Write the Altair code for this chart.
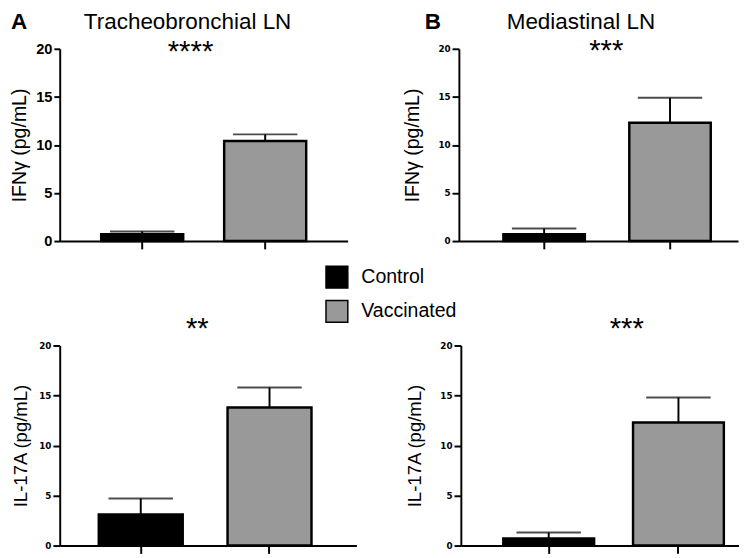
import altair as alt
import pandas as pd

groups = ["Control", "Vaccinated"]
colors = ["#000000", "#999999"]
y_ticks = [0, 5, 10, 15, 20]

tb_ifng_mean = [0.7, 10.4]
tb_ifng_upper = [1.0, 11.1]
med_ifng_mean = [0.7, 12.3]
med_ifng_upper = [1.3, 14.9]
tb_il17_mean = [3.1, 13.8]
tb_il17_upper = [4.7, 15.8]
med_il17_mean = [0.7, 12.3]
med_il17_upper = [1.3, 14.8]

FONT = "Liberation Sans"


def text_mark(txt, x, y, size, weight="normal", align="center", baseline="alphabetic"):
    return alt.Chart(alt.Data(values=[{}])).mark_text(
        text=txt, fontSize=size, fontWeight=weight, font=FONT, align=align,
        baseline=baseline, color="black", clip=False
    ).encode(x=alt.value(x), y=alt.value(y))


def panel(means, uppers, ytitle, title_size, w, h, lab_font, lab_size, ytick,
          title_pad, p_in, p_out, p_align, annotations):
    df = pd.DataFrame({"group": groups, "mean": means, "upper": uppers})
    xscale = alt.Scale(paddingInner=p_in, paddingOuter=p_out, align=p_align)
    xaxis = alt.Axis(labels=False, title=None, ticks=True, tickSize=8,
                     tickWidth=2, tickColor="black", domainColor="black",
                     domainWidth=2, grid=False)
    yscale = alt.Scale(domain=[0, 20], nice=False)
    yaxis = alt.Axis(values=y_ticks, title=ytitle, titleFont=FONT,
                     titleFontSize=title_size, titleFontWeight="normal",
                     titleColor="black", titlePadding=title_pad,
                     labelFont=lab_font, labelFontSize=lab_size,
                     labelFontWeight="bold", labelColor="black",
                     labelPadding=2, tickSize=ytick, tickWidth=2,
                     tickColor="black", domainColor="black",
                     domainWidth=2, grid=False)
    legend = alt.Legend(orient="none", legendX=272, legendY=222, title=None,
                        symbolType="square", symbolSize=500,
                        symbolStrokeColor="black", symbolStrokeWidth=1.5,
                        symbolOpacity=1, labelFontSize=20, labelFont=FONT,
                        labelColor="black", labelOffset=13, rowPadding=5,
                        padding=0)
    xenc = alt.X("group:N", sort=groups, scale=xscale, axis=xaxis)
    bars = alt.Chart(df).mark_bar(stroke="black", strokeWidth=2.5).encode(
        x=xenc, y=alt.Y("mean:Q", scale=yscale, axis=yaxis),
        color=alt.Color("group:N", sort=groups,
                        scale=alt.Scale(domain=groups, range=colors),
                        legend=legend))
    rule = alt.Chart(df).mark_rule(color="black", strokeWidth=2).encode(
        x=xenc, y=alt.Y("mean:Q", scale=yscale, axis=yaxis), y2="upper:Q")
    cap = alt.Chart(df).mark_tick(color="black", thickness=2, size=66).encode(
        x=xenc, y=alt.Y("upper:Q", scale=yscale, axis=yaxis))
    layers = [bars, rule, cap] + [text_mark(*a) for a in annotations]
    return alt.layer(*layers).properties(width=w, height=h)


tl = panel(tb_ifng_mean, tb_ifng_upper, "IFNγ (pg/mL)", 20, 295, 197, FONT, 15, 6, 6,
           0.333, 0.337, 0.5,
           [("A", -50, -20, 23, "bold", "left"),
            ("Tracheobronchial LN", 131, -20, 23),
            ("****", 134, 13, 30)])
tr = panel(med_ifng_mean, med_ifng_upper, "IFNγ (pg/mL)", 20, 286, 197, "DejaVu Sans", 9, 7, 16,
           0.353, 0.285, 0.62,
           [("B", -35, -20, 23, "bold", "left"),
            ("Mediastinal LN", 125, -20, 23),
            ("***", 151, 11, 30)])
bl = panel(tb_il17_mean, tb_il17_upper, "IL-17A (pg/mL)", 19, 304, 205, "DejaVu Sans", 9, 7, 8,
           0.348, 0.326, 0.465,
           [("**", 141, -8, 30)])
br = panel(med_il17_mean, med_il17_upper, "IL-17A (pg/mL)", 19, 285, 205, "DejaVu Sans", 9, 7, 16,
           0.30, 0.222, 0.737,
           [("***", 170, -8, 30)])

top = alt.hconcat(tl, tr, spacing=56).resolve_scale(color="shared")
bottom = alt.hconcat(bl, br, spacing=50).resolve_scale(color="shared")

chart = alt.vconcat(top, bottom, spacing=66).resolve_scale(color="shared").properties(
    padding={"left": 2, "top": -3, "right": 0, "bottom": 0}, background="white"
).configure_view(stroke=None)

chart.save("out.html", embed_options={"renderer": "svg", "actions": False})
